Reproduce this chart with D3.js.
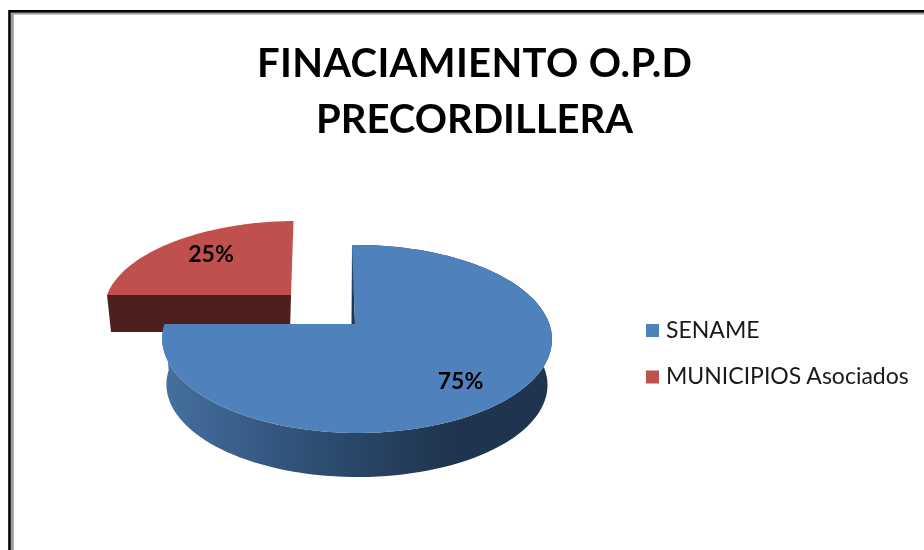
<!DOCTYPE html>
<html><head><meta charset="utf-8">
<script src="https://cdn.jsdelivr.net/npm/d3@7"></script>
<style>html,body{margin:0;padding:0;background:#fff}svg{display:block;filter:blur(.35px)}text{font-family:Lato,"Open Sans",sans-serif}</style>
</head><body><svg id="c" width="924" height="550"></svg>
<script>
const categories = ["SENAME", "MUNICIPIOS Asociados"];
const shares = [75, 25];
const shareLabels = ["75%", "25%"];
const titleLines = ["FINACIAMIENTO O.P.D", "PRECORDILLERA"];
const topColors = ["#4f81bd", "#c0504d"];

const svg = d3.select("#c");
// frame
svg.append("rect").attr("x",0).attr("y",0).attr("width",924).attr("height",550).attr("fill","#fff");
svg.append("path").attr("d","M12.4 550V13.2H924").attr("fill","none").attr("stroke","#999").attr("stroke-width",2.6);
svg.append("path").attr("d","M9.5 550V11.2H924").attr("fill","none").attr("stroke","#000").attr("stroke-width",2.6);

// perspective projection of a unit disc
const P = 0.159, Q = 0.0257;
function projector(cx, cy, rx, ry, shear = 0){
  return a => {
    const u = Math.sin(a), v = Math.cos(a), s = 1/(1 + P*v - Q*u);
    return [cx + rx*u*s + shear*v, cy - ry*v*s];
  };
}
const pieData = d3.pie().sort(null).value(d => d)(shares);
const arcPts = (proj, a0, a1) => d3.range(0, 121).map(i => proj(a0 + (a1-a0)*i/120));
const line = d3.line();

const defs = svg.append("defs");
const grad = defs.append("linearGradient").attr("id","blueSide").attr("gradientUnits","userSpaceOnUse")
  .attr("x1",165).attr("x2",450).attr("y1",0).attr("y2",0);
[[0,"#44709f"],[0.45,"#31527a"],[1,"#1f344e"]].forEach(d => grad.append("stop").attr("offset",d[0]).attr("stop-color",d[1]));

// red exploded slice
const red = pieData[1];
const redTop = projector(291,295,188.7,85.8,2.5);
const redLeft = redTop(red.startAngle);
svg.append("path").attr("fill","#4d1f1e")
  .attr("d", line([redLeft, [291,295], [290,332], [redLeft[0]+4, 332]])+"Z");
svg.append("path").attr("fill",topColors[1])
  .attr("d", line([[291,295], ...arcPts(redTop, red.startAngle, red.endAngle)])+"Z");

// blue slice
const blue = pieData[0];
const blueTop = projector(352,324,192.3,91.6);
const blueBot = projector(352,370,188,90);
const rimTop = arcPts(blueTop, blue.startAngle, blue.endAngle);
const rimBot = arcPts(blueBot, blue.startAngle, blue.endAngle);
svg.append("path").attr("fill","#1f344e")
  .attr("d", line([blueTop(blue.startAngle), [351.5,324], [355,324]])+"Z");
svg.append("path").attr("fill","url(#blueSide)")
  .attr("d", line([...rimTop, ...rimBot.slice().reverse()])+"Z");
svg.append("path").attr("fill",topColors[0])
  .attr("d", line([[355,324], ...rimTop])+"Z");

// value labels
const labelPos = [[460.5,389],[211,262]];
shareLabels.forEach((t,i)=> svg.append("text").attr("x",labelPos[i][0]).attr("y",labelPos[i][1])
  .attr("text-anchor","middle").attr("font-size",23).attr("font-weight",700).attr("fill","#000").text(t));

// title
const titleWidths = [435, 317];
titleLines.forEach((t,i)=> svg.append("text").attr("x",474.5).attr("y",77+i*56)
  .attr("text-anchor","middle").attr("font-size",40).attr("font-weight",700).attr("fill","#000")
  .attr("textLength",titleWidths[i]).attr("lengthAdjust","spacing").text(t));

// legend
categories.forEach((c,i)=>{
  const y = 330.5 + i*46.5;
  svg.append("rect").attr("x",646).attr("y",y-6.5).attr("width",13).attr("height",13).attr("fill",topColors[i]);
  svg.append("text").attr("x",666).attr("y",y+7).attr("font-size",23).attr("fill","#1a1a1a").text(c);
});
</script></body></html>
